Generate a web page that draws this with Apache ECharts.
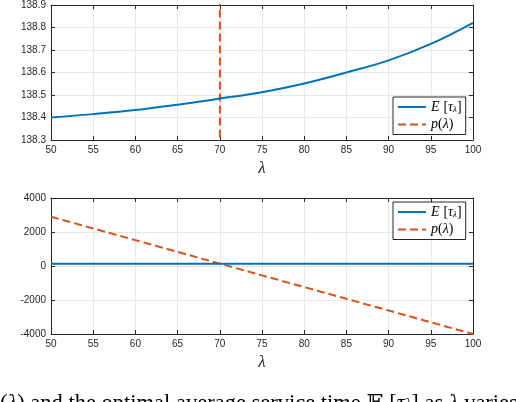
<!DOCTYPE html>
<html>
<head>
<meta charset="utf-8">
<script src="https://cdn.jsdelivr.net/npm/echarts@6/dist/echarts.min.js"></script>
<style>
html,body{margin:0;padding:0;background:#fff;}
#c{width:516px;height:402px;}
</style>
</head>
<body>
<div id="c"></div>
<script>
// ---- data ----
const lambdas = [50, 55, 60, 65, 70, 75, 80, 85, 90, 95, 100];
const expectedTau = [138.400, 138.415, 138.433, 138.457, 138.484, 138.512, 138.551, 138.600, 138.654, 138.727, 138.821];
const pLambda = [2900, 2210, 1520, 830, 140, -550, -1240, -1930, -2620, -3310, -4000];
const xTicks = {min: 50, max: 100, interval: 5};
const yTicksTop = {min: 138.3, max: 138.9, interval: 0.1};
const yTicksBottom = {min: -4000, max: 4000, interval: 2000};
const seriesNames = ['E', 'p'];

const BLUE = '#0072BD', ORANGE = '#D95319', AX = '#262626', GRID = '#e8e8e8';
const tickFont = {fontFamily: 'Liberation Sans, Arial, sans-serif', fontSize: 10, color: AX};

function pairs(ys) { return lambdas.map((x, i) => [x, ys[i]]); }

function xAx(gridIndex, pos) {
  const main = pos === 'bottom';
  return Object.assign({
    type: 'value', gridIndex, position: pos,
    axisLine: {show: true, onZero: false, lineStyle: {color: AX, width: 1}},
    axisTick: {show: true, inside: true, length: 4, lineStyle: {color: AX}},
    axisLabel: main ? Object.assign({show: true, margin: 5}, tickFont) : {show: false},
    splitLine: {show: main, lineStyle: {color: GRID, width: 1}},
    name: main ? 'λ' : '', nameLocation: 'middle', nameGap: 20,
    nameTextStyle: {fontFamily: 'Liberation Serif, DejaVu Serif, serif', fontStyle: 'italic', fontSize: 17, color: AX}
  }, xTicks);
}
function yAx(gridIndex, pos, ticks, fmt) {
  const main = pos === 'left';
  return Object.assign({
    type: 'value', gridIndex, position: pos, scale: true,
    axisLine: {show: true, onZero: false, lineStyle: {color: AX, width: 1}},
    axisTick: {show: true, inside: true, length: 4, lineStyle: {color: AX}},
    axisLabel: main ? Object.assign({show: true, margin: 5, formatter: fmt}, tickFont) : {show: false},
    splitLine: {show: main, lineStyle: {color: GRID, width: 1}}
  }, ticks);
}

const legendRich = {
  i: {fontFamily: 'Liberation Serif, DejaVu Serif, serif', fontStyle: 'italic', fontSize: 14, color: '#000'},
  n: {fontFamily: 'Liberation Serif, DejaVu Serif, serif', fontSize: 14, color: '#000'},
  s: {fontFamily: 'Liberation Serif, DejaVu Serif, serif', fontStyle: 'italic', fontSize: 9, color: '#000', verticalAlign: 'bottom', padding: [6, 0, 0, 0]}
};
function legendFmt(name) {
  return name === 'E' ? '{i|E} {n|[}{i|τ}{s|λ}{n|]}' : '{i|p}{n|(}{i|λ}{n|)}';
}
function legend(top) {
  return {
    data: seriesNames, orient: 'vertical', left: 393, top: top,
    width: 72, padding: [3, 4, 3, 4], itemGap: 3, itemWidth: 28, itemHeight: 14,
    backgroundColor: '#fff', borderColor: AX, borderWidth: 1, borderRadius: 0,
    itemStyle: {opacity: 0, borderWidth: 0},
    formatter: legendFmt, textStyle: {rich: legendRich, fontSize: 14}
  };
}

const chart = echarts.init(document.getElementById('c'), null, {renderer: 'canvas'});
chart.setOption({
  animation: false,
  backgroundColor: '#fff',
  grid: [
    {left: 51, top: 5, width: 422, height: 135},
    {left: 51, top: 198, width: 422, height: 136}
  ],
  xAxis: [xAx(0, 'bottom'), xAx(0, 'top'), xAx(1, 'bottom'), xAx(1, 'top')],
  yAxis: [
    yAx(0, 'left', yTicksTop, v => v.toFixed(1)), yAx(0, 'right', yTicksTop),
    yAx(1, 'left', yTicksBottom, v => String(Math.round(v))), yAx(1, 'right', yTicksBottom)
  ],
  legend: [legend(97), legend(202)],
  series: [
    {name: 'E', type: 'line', xAxisIndex: 0, yAxisIndex: 0, data: pairs(expectedTau), smooth: 0.4,
     symbol: 'none', clip: true, lineStyle: {color: BLUE, width: 2}, itemStyle: {color: BLUE}, z: 3},
    {name: 'p', type: 'line', xAxisIndex: 0, yAxisIndex: 0, data: pairs(pLambda),
     symbol: 'none', clip: true, lineStyle: {color: ORANGE, width: 2, type: [8, 4]}, itemStyle: {color: ORANGE}, z: 2},
    {name: 'E', type: 'line', xAxisIndex: 2, yAxisIndex: 2, data: pairs(expectedTau), smooth: 0.4,
     symbol: 'none', clip: true, lineStyle: {color: BLUE, width: 2}, itemStyle: {color: BLUE}, z: 3},
    {name: 'p', type: 'line', xAxisIndex: 2, yAxisIndex: 2, data: pairs(pLambda),
     symbol: 'none', clip: true, lineStyle: {color: ORANGE, width: 2, type: [8, 4]}, itemStyle: {color: ORANGE}, z: 2}
  ],
  graphic: [{
    type: 'text', left: 0, top: 393, silent: true,
    style: {
      text: '{n|(}{i|λ}{n|) and the optimal average service time }{n|𝔼 [}{i|τ}{s|λ}{n|] as }{i|λ}{n| varies, wit}',
      rich: {
        n: {fontFamily: 'Liberation Serif, DejaVu Serif, serif', fontSize: 22.5, fill: '#000'},
        i: {fontFamily: 'Liberation Serif, DejaVu Serif, serif', fontStyle: 'italic', fontSize: 22.5, fill: '#000'},
        s: {fontFamily: 'Liberation Serif, DejaVu Serif, serif', fontStyle: 'italic', fontSize: 15, fill: '#000'}
      }
    }
  }]
});
</script>
</body>
</html>
